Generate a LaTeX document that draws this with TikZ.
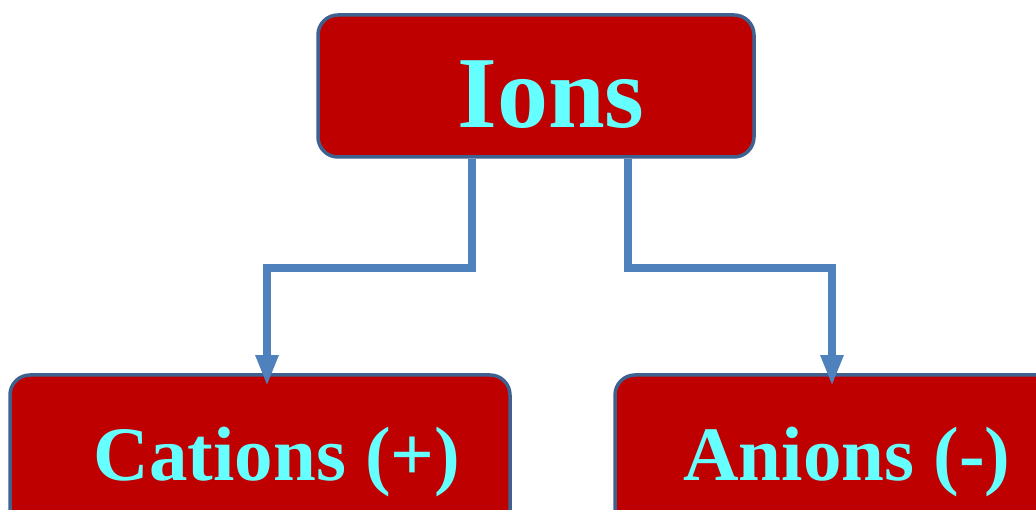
\documentclass[tikz,border=0pt]{standalone}
\usepackage{fontspec}
\setmainfont{Liberation Serif}
\usetikzlibrary{arrows.meta}
\definecolor{boxred}{HTML}{BF0000}
\definecolor{boxedge}{HTML}{3F6190}
\definecolor{ioncyan}{HTML}{66FFFF}
\definecolor{connblue}{HTML}{4F81BD}
\begin{document}
\begin{tikzpicture}[x=1pt,y=1pt,
  ionbox/.style={draw=boxedge,line width=3.5pt,fill=boxred,rounded corners=20pt,inner sep=0pt},
  iontext/.style={text=ioncyan,anchor=base,inner sep=0pt},
  conn/.style={draw=connblue,line width=8pt,-{Triangle[length=31pt,width=21pt]},shorten >=-13pt}]
\useasboundingbox (0,0) rectangle (1036,-510);
\clip (0,0) rectangle (1036,-510);
\node[ionbox,minimum width=436pt,minimum height=142pt] (top) at (536,-86) {};
\node[ionbox,minimum width=500pt,minimum height=180pt] (cat) at (260,-465) {};
\node[ionbox,minimum width=460pt,minimum height=180pt] (an) at (845,-465) {};
\node[iontext,font=\fontsize{102}{102}\selectfont\bfseries] (ions) at (551,-128) {Ions};
\node[iontext,font=\fontsize{77}{77}\selectfont\bfseries] (cations) at (277,-480) {Cations (+)};
\node[iontext,font=\fontsize{77}{77}\selectfont\bfseries] (anions) at (847,-480) {Anions (-)};
\draw[conn] ([xshift=-64pt]top.south) -- ++(0,-109) -| ([xshift=7pt]cat.north);
\draw[conn] ([xshift=92pt]top.south) -- ++(0,-109) -| ([xshift=-13pt]an.north);
\end{tikzpicture}
\end{document}
